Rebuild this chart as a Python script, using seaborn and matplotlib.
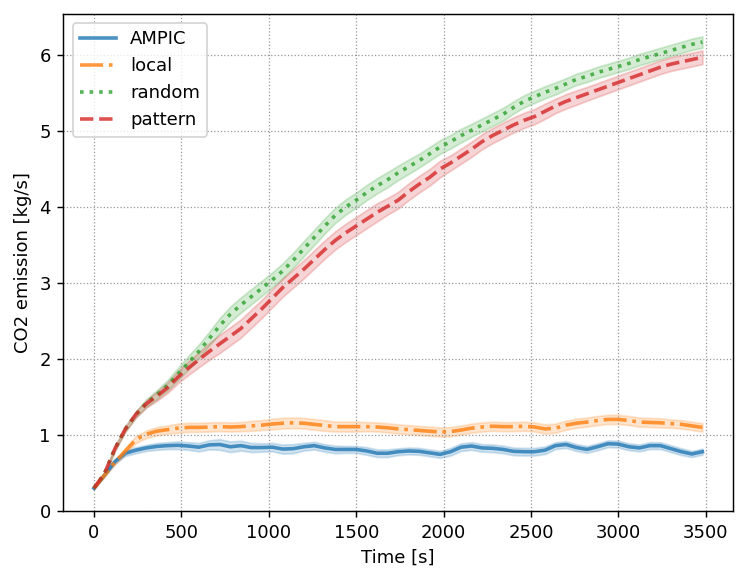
import matplotlib
matplotlib.use("Agg")
import matplotlib.pyplot as plt
import seaborn as sns
import numpy as np

# time axis [s]
time = list(range(0, 3481, 60))

ampic = [0.30, 0.47, 0.65, 0.76, 0.80, 0.83, 0.85, 0.86, 0.865, 0.855,
         0.84, 0.87, 0.875, 0.845, 0.86, 0.835, 0.835, 0.84, 0.815, 0.82,
         0.845, 0.86, 0.83, 0.81, 0.81, 0.81, 0.79, 0.76, 0.76, 0.78,
         0.79, 0.785, 0.765, 0.745, 0.78, 0.84, 0.855, 0.83, 0.825, 0.81,
         0.785, 0.78, 0.78, 0.80, 0.86, 0.875, 0.835, 0.81, 0.845, 0.885,
         0.88, 0.845, 0.83, 0.86, 0.86, 0.82, 0.78, 0.75, 0.78]
ampic_err = [0.01, 0.02, 0.03, 0.035, 0.04, 0.04, 0.045, 0.045, 0.05, 0.05,
             0.055, 0.06, 0.07, 0.07, 0.065, 0.06, 0.055, 0.055, 0.06, 0.06,
             0.05, 0.05, 0.05, 0.05, 0.045, 0.045, 0.05, 0.05, 0.05, 0.045,
             0.045, 0.045, 0.045, 0.045, 0.05, 0.05, 0.05, 0.05, 0.05, 0.05,
             0.05, 0.05, 0.05, 0.05, 0.045, 0.045, 0.045, 0.045, 0.045, 0.045,
             0.045, 0.045, 0.045, 0.045, 0.045, 0.045, 0.045, 0.04, 0.04]

local = [0.30, 0.47, 0.64, 0.79, 0.94, 1.01, 1.05, 1.07, 1.09, 1.10,
         1.10, 1.105, 1.11, 1.105, 1.11, 1.12, 1.13, 1.145, 1.155, 1.16,
         1.155, 1.14, 1.125, 1.11, 1.11, 1.11, 1.11, 1.105, 1.095, 1.08,
         1.07, 1.06, 1.05, 1.04, 1.045, 1.065, 1.09, 1.105, 1.115, 1.11,
         1.11, 1.115, 1.105, 1.08, 1.09, 1.13, 1.155, 1.17, 1.19, 1.205,
         1.205, 1.19, 1.17, 1.165, 1.16, 1.15, 1.14, 1.12, 1.10]
local_err = [0.01, 0.02, 0.03, 0.04, 0.045, 0.05, 0.055, 0.055, 0.06, 0.06,
             0.06, 0.06, 0.06, 0.06, 0.06, 0.065, 0.065, 0.07, 0.07, 0.07,
             0.07, 0.07, 0.07, 0.065, 0.065, 0.065, 0.06, 0.06, 0.06, 0.06,
             0.06, 0.06, 0.06, 0.06, 0.06, 0.06, 0.06, 0.06, 0.06, 0.06,
             0.06, 0.06, 0.06, 0.06, 0.06, 0.06, 0.06, 0.06, 0.06, 0.06,
             0.06, 0.06, 0.06, 0.06, 0.06, 0.055, 0.055, 0.055, 0.055]

random_ = [0.30, 0.49, 0.82, 1.08, 1.27, 1.42, 1.53, 1.65, 1.80, 1.95,
           2.10, 2.27, 2.44, 2.59, 2.71, 2.82, 2.93, 3.04, 3.16, 3.30,
           3.45, 3.60, 3.75, 3.89, 4.00, 4.09, 4.19, 4.28, 4.36, 4.45,
           4.53, 4.61, 4.70, 4.79, 4.86, 4.94, 5.01, 5.08, 5.15, 5.22,
           5.31, 5.39, 5.45, 5.51, 5.56, 5.62, 5.68, 5.72, 5.77, 5.81,
           5.85, 5.89, 5.94, 5.98, 6.02, 6.06, 6.10, 6.14, 6.17]
random_err = [0.01, 0.02, 0.03, 0.035, 0.04, 0.05, 0.06, 0.07, 0.08, 0.09,
              0.09, 0.09, 0.10, 0.10, 0.10, 0.10, 0.10, 0.10, 0.10, 0.10,
              0.10, 0.10, 0.10, 0.10, 0.10, 0.10, 0.10, 0.10, 0.10, 0.095,
              0.095, 0.09, 0.09, 0.09, 0.09, 0.09, 0.085, 0.085, 0.085, 0.085,
              0.08, 0.08, 0.08, 0.08, 0.08, 0.075, 0.075, 0.075, 0.075, 0.075,
              0.075, 0.075, 0.075, 0.075, 0.075, 0.075, 0.075, 0.075, 0.075]

pattern = [0.30, 0.49, 0.82, 1.08, 1.27, 1.41, 1.51, 1.62, 1.76, 1.88,
           1.99, 2.10, 2.20, 2.30, 2.40, 2.53, 2.66, 2.80, 2.94, 3.06,
           3.18, 3.31, 3.44, 3.56, 3.66, 3.75, 3.84, 3.93, 4.01, 4.09,
           4.20, 4.30, 4.39, 4.50, 4.58, 4.67, 4.76, 4.86, 4.94, 5.01,
           5.08, 5.14, 5.19, 5.26, 5.33, 5.39, 5.44, 5.49, 5.54, 5.59,
           5.64, 5.69, 5.74, 5.79, 5.84, 5.88, 5.91, 5.94, 5.97]
pattern_err = [0.01, 0.02, 0.03, 0.035, 0.04, 0.05, 0.06, 0.07, 0.08, 0.09,
               0.10, 0.11, 0.12, 0.12, 0.12, 0.12, 0.12, 0.12, 0.12, 0.12,
               0.12, 0.12, 0.12, 0.12, 0.12, 0.12, 0.12, 0.12, 0.11, 0.11,
               0.11, 0.11, 0.11, 0.11, 0.10, 0.10, 0.10, 0.10, 0.10, 0.10,
               0.10, 0.10, 0.10, 0.10, 0.095, 0.095, 0.095, 0.09, 0.09, 0.09,
               0.09, 0.09, 0.09, 0.09, 0.09, 0.09, 0.09, 0.09, 0.09]

labels = ["AMPIC", "local", "random", "pattern"]
series = [ampic, local, random_, pattern]
errors = [ampic_err, local_err, random_err, pattern_err]
styles = ["-", "-.", ":", "--"]
colors = sns.color_palette("tab10", 4)

fig, ax = plt.subplots(figsize=(747 / 130, 582 / 130), dpi=130)
fig.subplots_adjust(left=0.085, right=0.981, top=0.976, bottom=0.122)

t = np.array(time)
for lab, y, err, ls, c in zip(labels, series, errors, styles, colors):
    y = np.array(y)
    err = np.array(err)
    sns.lineplot(x=t, y=y, label=lab, linestyle=ls, color=c, alpha=0.8,
                 linewidth=2.0, ax=ax)
    ax.fill_between(t, y - err, y + err, color=c, alpha=0.2)

ax.set_xlim(-174, 3654)
ax.set_ylim(0, 6.54)
ax.grid(linestyle=":", color="0.6", linewidth=0.7)
ax.set_xlabel("Time [s]")
ax.set_ylabel("CO2 emission [kg/s]")
ax.legend(loc="upper left")

plt.savefig("out.png", dpi=130)
